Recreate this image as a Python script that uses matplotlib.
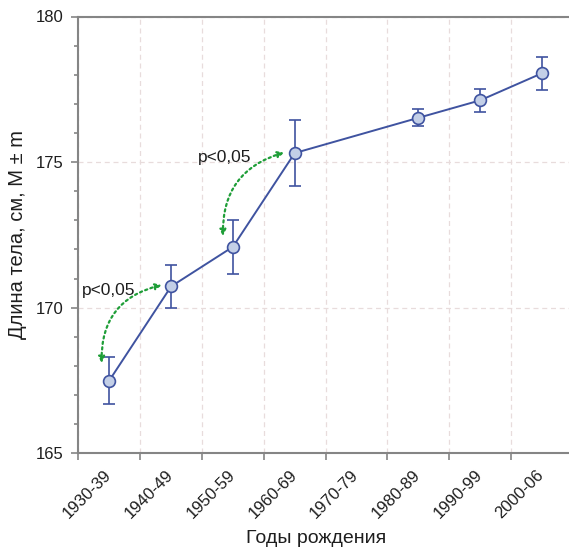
import matplotlib.pyplot as plt
from matplotlib.ticker import MultipleLocator
from matplotlib.transforms import ScaledTranslation

plt.rcParams['font.family'] = ['Liberation Sans', 'DejaVu Sans']

decades = ["1930-39", "1940-49", "1950-59", "1960-69", "1970-79", "1980-89", "1990-99", "2000-06"]
# decades that have a measurement (1970-79 is missing)
pos = [0, 1, 2, 3, 5, 6, 7]
height = [167.5, 170.73, 172.09, 175.31, 176.52, 177.12, 178.05]
err = [0.8, 0.73, 0.93, 1.14, 0.29, 0.39, 0.57]

line_c = '#3f53a0'
face_c = '#c3cfe7'
green = '#1f9e38'
spine_c = '#858585'
text_c = '#1e1e1e'

fig = plt.figure(figsize=(5.69, 5.47), dpi=100)
ax = fig.add_axes([78.4/569, 1-453.3/547, 494.4/569, (453.3-16.5)/547])

xs = [p + 0.5 for p in pos]
ax.errorbar(xs, height, yerr=err, color=line_c, lw=1.4, elinewidth=1.2,
            capsize=4, capthick=1.2, marker='o', ms=8.5, mfc=face_c, mec=line_c,
            mew=1.2, zorder=3)

ax.set_xlim(0, 8)
ax.set_ylim(165, 180)
ax.set_xticks(range(len(decades)))
ax.set_xticklabels(decades, rotation=45, ha='center', va='top')
ax.yaxis.set_major_locator(MultipleLocator(5))
ax.yaxis.set_minor_locator(MultipleLocator(1))

ax.grid(True, which='major', ls=(0, (4, 3)), color='#e8dcdc', lw=0.9)
ax.set_axisbelow(True)

ax.spines['right'].set_visible(False)
for s in ['left', 'top', 'bottom']:
    ax.spines[s].set_color(spine_c)
    ax.spines[s].set_linewidth(1.5)

ax.tick_params(axis='both', which='major', direction='out', length=5, width=1.2,
               color=spine_c, labelsize=12, labelcolor=text_c)
ax.tick_params(axis='y', which='major', pad=6)
ax.tick_params(axis='x', which='major', pad=5)
ax.tick_params(axis='y', which='minor', direction='out', length=3, width=1.2,
               color=spine_c)

# labels in the reference sit a bit to the right of their ticks
shift = ScaledTranslation(9/100, 0, fig.dpi_scale_trans)
for lab in ax.get_xticklabels():
    lab.set_transform(lab.get_transform() + shift)

ax.set_xlabel("Годы рождения", fontsize=14, color=text_c)
ax.xaxis.set_label_coords(0.48, -0.176)
ax.set_ylabel("Длина тела, см, M ± m", fontsize=14.5, color=text_c, labelpad=6)

arrow = dict(arrowstyle='<|-|>', ls=(0, (1, 1.5)), color=green, lw=1.6,
             mutation_scale=9, shrinkA=0, shrinkB=0)
ax.annotate("", xy=(1.35, 170.78), xytext=(0.377, 168.1),
            arrowprops=dict(arrow, connectionstyle='arc3,rad=-0.4'))
ax.annotate("", xy=(3.33, 175.33), xytext=(2.34, 172.46),
            arrowprops=dict(arrow, connectionstyle='arc3,rad=-0.38'))
ax.text(0.05, 170.6, "p<0,05", fontsize=12.5, color=text_c, va='center')
ax.text(1.93, 175.15, "p<0,05", fontsize=12.5, color=text_c, va='center')

fig.savefig("out.png", dpi=100)
